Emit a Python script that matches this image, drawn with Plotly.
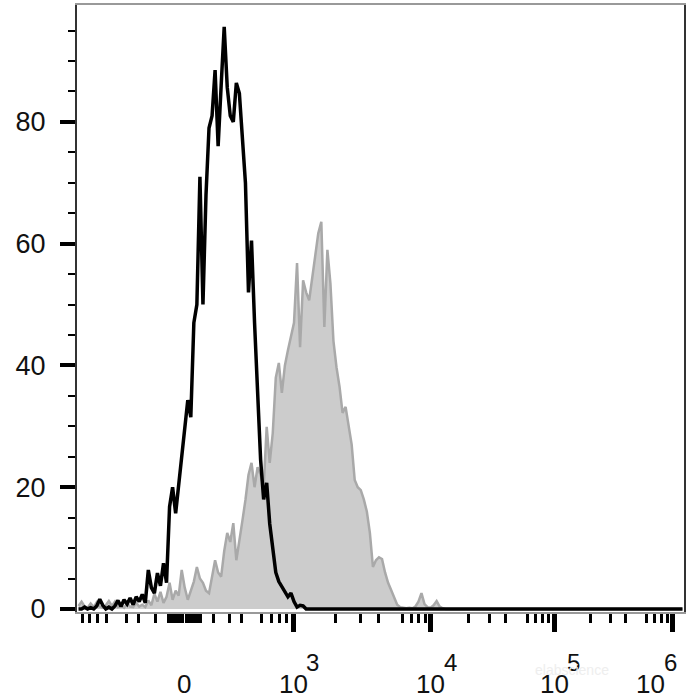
"""Flow cytometry overlay histogram: stained sample (black) vs control (gray fill)."""
import numpy as np
import plotly.graph_objects as go

# ── Data ──────────────────────────────────────────────────────────────────
# histogram is binned on the display scale: 200 bins (channels) across the x range
n_bins = 200

# counts per channel, starting at channel 0; channels past the end of a list are 0
black_counts = [
    0, 0, 0.3, 0, 0.2, 0, 0.5, 1.6, 0.6, 0,
    0.3, 0, 0.5, 1.4, 0.4, 1.5, 0.8, 1.8, 0.7, 2.0,
    1.2, 2.4, 1.0, 6.4, 3.5, 2.6, 5.9, 3.8, 7.5, 4.3,
    16.8, 20, 15.7, 20.5, 24.5, 30, 34.3, 31.5, 47, 50,
    71, 50, 68, 79, 81, 88.5, 76, 86, 95.6, 85.7,
    81, 80, 86.4, 84.7, 78, 70, 52, 60.5, 47, 36,
    24.5, 18, 20.7, 14, 10, 6, 4.5, 3.6, 2.8, 2,
    2.6, 1.2, 0.3, 0.6, 0.5, 0,
]
gray_counts = [
    0.5, 1.2, 0.4, 0.2, 0.9, 0.3, 1.1, 0.4, 0.2, 0.6,
    1.3, 0.5, 1.2, 0.3, 0.6, 0.2, 0.9, 0.4, 0.3, 1.0,
    0.4, 0.7, 0.3, 1.4, 0.6, 2.5, 1.2, 2.8, 1.0, 2.0,
    4.3, 1.5, 3.0, 2.2, 6.4, 3.5, 1.5, 3.0, 4.5, 6.9,
    5.0, 4.3, 3.0, 2.6, 5.5, 8.0, 6.0, 5.3, 9.5, 12.5,
    11.0, 14.1, 8.0, 11.0, 14.5, 17.9, 22, 24, 20, 23.3,
    22, 20, 29.9, 24, 28.9, 38, 40.4, 35.5, 40, 42.5,
    45, 47, 56.8, 43, 54, 52, 50.7, 54.5, 58, 61.7,
    63.6, 46.3, 59, 53.5, 44, 39.7, 36.5, 32.2, 33.2, 30,
    27, 21.2, 20, 19.5, 18, 16, 12.5, 6.9, 8.0, 8.5,
    8.2, 6.0, 4.3, 3.1, 2.0, 0.7, 0.3, 0.2, 0.1, 0.2,
    0.1, 0.4, 1.2, 2.6, 0.8, 0.3, 0.2, 0.6, 1.3, 0.4,
    0.1, 0,
]

# biexponential display: channel position of some reference values
scale_values = [-1000, -500, -200, 0, 200, 500, 1000, 5000, 1e4, 1e5, 1e6]
scale_channels = [-0.40, 13.23, 25.84, 35.39, 44.84, 57.12, 71.18, 103.97, 116.61, 157.30, 196.28]

# x tick marks
major_values = [1e3, 1e4, 1e5, 1e6]
medium_values = [-500, -100, 0, 100, 500, 5e3, 5e4, 5e5]
minor_values = ([-m * 100 for m in range(2, 10) if m != 5]
                + [s * m * 10 for s in (-1, 1) for m in range(1, 10)]
                + [m * 10 ** e for e in (2, 3, 4, 5) for m in range(2, 10) if m != 5])

# x tick labels
label_values = [0, 1e3, 1e4, 1e5, 1e6]
label_base = ['0', '10', '10', '10', '10']
label_sup = ['', '3', '4', '5', '6']
label_shift = [0, 0, 0, 0, -22]

y_range = [-0.5, 99.2]


def to_channel(v):
    """Value -> display channel (interpolated in asinh space between reference points)."""
    u = np.arcsinh(np.asarray(v, dtype=float) / 100.0)
    u_ref = np.arcsinh(np.asarray(scale_values, dtype=float) / 100.0)
    return np.interp(u, u_ref, scale_channels)


x_bins = np.arange(n_bins) + 0.5
black = np.zeros(n_bins)
black[:len(black_counts)] = black_counts
gray = np.zeros(n_bins)
gray[:len(gray_counts)] = gray_counts

FONT = 'Liberation Sans, Arial, sans-serif'

fig = go.Figure()
fig.add_trace(go.Scatter(
    x=x_bins, y=gray, mode='lines',
    line=dict(color='#a9a9a9', width=2.5),
    fill='tozeroy', fillcolor='#cccccc',
    hovertemplate='%{y:.1f}<extra>control</extra>',
))
fig.add_trace(go.Scatter(
    x=x_bins, y=black, mode='lines',
    line=dict(color='black', width=3.5),
    hovertemplate='%{y:.1f}<extra>sample</extra>',
))

# ── x labels: 0, 10^3 ... 10^6 with raised exponents (offsets in px below the axis) ──
for v, base, sup, dx in zip(label_values, label_base, label_sup, label_shift):
    xc = float(to_channel(v))
    fig.add_annotation(x=xc, y=0, xref='x', yref='paper', text=base,
                       showarrow=False, xanchor='center', yanchor='middle',
                       xshift=dx, yshift=-72, font=dict(family=FONT, size=26, color='#111'))
    if sup:
        fig.add_annotation(x=xc, y=0, xref='x', yref='paper', text=sup,
                           showarrow=False, xanchor='left', yanchor='middle',
                           xshift=dx + 11, yshift=-50, font=dict(family=FONT, size=24, color='#111'))

# faint watermark
fig.add_annotation(x=0.88, y=0, xref='paper', yref='paper', text='elabscience',
                   showarrow=False, yshift=-68,
                   font=dict(family=FONT, size=14, color='#eeeeee'))

fig.update_layout(
    width=700, height=700,
    margin=dict(l=77, r=16, t=5, b=88),
    plot_bgcolor='white', paper_bgcolor='white',
    showlegend=False,
    font=dict(family=FONT, size=26, color='#111'),
    xaxis=dict(
        range=[0, n_bins], automargin=False,
        tickmode='array', tickvals=to_channel(major_values).tolist(),
        showticklabels=False,
        ticks='outside', ticklen=18, tickwidth=4.5, tickcolor='black',
        minor=dict(tickmode='array', tickvals=to_channel(minor_values).tolist(),
                   ticks='outside', ticklen=9, tickwidth=2.5, tickcolor='black',
                   showgrid=False),
        showline=True, linecolor='#999999', linewidth=1.5, mirror=True,
        showgrid=False, zeroline=False,
    ),
    xaxis2=dict(
        overlaying='x', anchor='y', side='bottom',
        range=[0, n_bins], automargin=False,
        tickmode='array', tickvals=to_channel(medium_values).tolist(),
        showticklabels=False,
        ticks='outside', ticklen=13, tickwidth=3, tickcolor='black',
        showline=False, showgrid=False, zeroline=False,
    ),
    yaxis=dict(
        range=y_range, automargin=False,
        tick0=0, dtick=20,
        ticks='outside', ticklen=15, tickwidth=3.5, tickcolor='black',
        ticklabelstandoff=9,
        tickfont=dict(family=FONT, size=27, color='#111'),
        minor=dict(dtick=5, ticks='outside', ticklen=7, tickwidth=2, tickcolor='black',
                   showgrid=False),
        showline=True, linecolor='#333333', linewidth=2, mirror=True,
        showgrid=False, zeroline=False,
    ),
)

# the page body has an 8px default margin; drop it so the 700x700 figure fills the window
fig.write_html('out.html', config=dict(displayModeBar=False),
               post_script="document.body.style.margin = '0';")
